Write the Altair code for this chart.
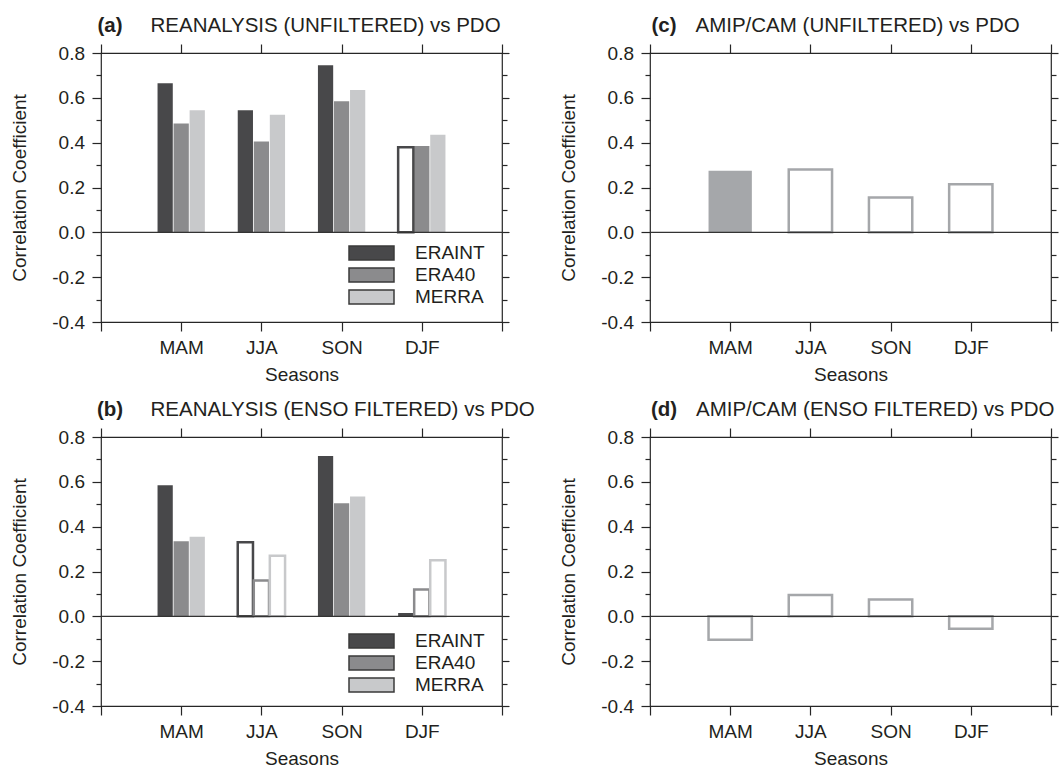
import json
import altair as alt
import pandas as pd

# ---------------- data ----------------
seasons = ["MAM", "JJA", "SON", "DJF"]
datasets = ["ERAINT", "ERA40", "MERRA"]

# (a) reanalysis (unfiltered) vs PDO
a_eraint = [0.665, 0.545, 0.745, 0.38]
a_era40 = [0.485, 0.405, 0.585, 0.385]
a_merra = [0.545, 0.525, 0.635, 0.435]
a_eraint_sig = [True, True, True, False]
a_era40_sig = [True, True, True, True]
a_merra_sig = [True, True, True, True]

# (b) reanalysis (ENSO filtered) vs PDO
b_eraint = [0.585, 0.33, 0.715, 0.015]
b_era40 = [0.335, 0.16, 0.505, 0.12]
b_merra = [0.355, 0.27, 0.535, 0.25]
b_eraint_sig = [True, False, True, True]
b_era40_sig = [True, False, True, False]
b_merra_sig = [True, False, True, False]

# (c) AMIP/CAM (unfiltered) vs PDO
amip = ["AMIP/CAM"]
c_amip = [0.275, 0.28, 0.155, 0.215]
c_amip_sig = [True, False, False, False]

# (d) AMIP/CAM (ENSO filtered) vs PDO
d_amip = [-0.105, 0.095, 0.075, -0.055]
d_amip_sig = [False, False, False, False]

y_ticks = [-0.4, -0.3, -0.2, -0.1, 0.0, 0.1, 0.2, 0.3, 0.4, 0.5, 0.6, 0.7, 0.8]
x_ticks = [0, 1, 2, 3, 4, 5]

# ---------------- style ----------------
FONT = "Liberation Sans"
TXT = "#231f20"
LINE = "#262626"
rean_colors = ["#48484a", "#8b8b8d", "#c8c9cb"]
amip_colors = ["#a5a7aa"]
W, H = 401, 269
LBL = 19
AX_T = 19
TTL = 20.5
MAJOR = "abs(round(datum.value*10)) % 2 == 0"


def make_df(names, series, sigs):
    rows = []
    for k, (name, vals, sg) in enumerate(zip(names, series, sigs)):
        for i, (s, v, g) in enumerate(zip(seasons, vals, sg)):
            rows.append(dict(season=s, s_idx=i + 1, dataset=name, d_idx=k,
                             value=v, sig=g))
    return pd.DataFrame(rows)


def panel(df, names, colors, letter, title, step, bar_w, letter_dx, title_dx,
          legend_xy=None):
    n = len(names)
    xscale = alt.Scale(domain=[x_ticks[0], x_ticks[-1]], nice=False, zero=False)
    yscale = alt.Scale(domain=[y_ticks[0], y_ticks[-1]], nice=False, zero=False)

    left_axis = alt.Axis(
        orient="left", values=y_ticks, domain=False, grid=False,
        tickSize={"condition": {"test": MAJOR, "value": 9}, "value": 5},
        labelExpr=f"{MAJOR} ? (datum.value < 0 ? '-' : '') + format(abs(datum.value), '.1f') : ''",
        labelOverlap=False, labelPadding=7.5, labelFontSize=LBL,
        title="Correlation Coefficient", titleFontSize=AX_T, titlePadding=22,
    )
    right_axis = alt.Axis(
        orient="right", values=y_ticks, domain=False, grid=False, labels=False,
        tickSize={"condition": {"test": MAJOR, "value": 7}, "value": 5}, title=None,
    )
    bottom_axis = alt.Axis(
        orient="bottom", values=x_ticks, domain=False, grid=False,
        tickSize=9, labelExpr=json.dumps([""] + seasons + [""]) + "[datum.value]",
        labelOverlap=False, labelFlush=False, labelPadding=7, labelFontSize=LBL,
        title="Seasons", titleFontSize=AX_T, titlePadding=8,
    )
    top_axis = alt.Axis(
        orient="top", values=x_ticks, domain=False, grid=False, labels=False,
        tickSize=9, title=None,
    )

    base = alt.Chart(df).transform_calculate(
        center=f"datum.s_idx + (datum.d_idx - {(n - 1) / 2}) * {step}"
    ).transform_calculate(
        x1=f"datum.center - {bar_w / 2}", x2=f"datum.center + {bar_w / 2}"
    )
    cscale = alt.Scale(domain=names, range=colors)

    filled = base.transform_filter("datum.sig").mark_bar().encode(
        x=alt.X("x1:Q", scale=xscale, axis=bottom_axis),
        x2="x2:Q",
        y=alt.Y("value:Q", scale=yscale, axis=left_axis),
        y2=alt.datum(0),
        fill=alt.Fill("dataset:N", scale=cscale, legend=None),
    )
    hollow = base.transform_filter("!datum.sig").mark_bar(
        fill="white", strokeWidth=2.5
    ).encode(
        x=alt.X("x1:Q", scale=xscale, axis=top_axis),
        x2="x2:Q",
        y=alt.Y("value:Q", scale=yscale, axis=right_axis),
        y2=alt.datum(0),
        stroke=alt.Stroke("dataset:N", scale=cscale, legend=None),
    )
    zero = alt.Chart(pd.DataFrame({"zero": [0.0]})).mark_rule(
        color="#333333", strokeWidth=1.3
    ).encode(
        y=alt.Y("zero:Q", scale=yscale, axis=None),
        x=alt.value(0), x2=alt.value(W),
    )
    letter_t = alt.Chart(pd.DataFrame({"t": [letter]})).mark_text(
        align="left", baseline="top", font=FONT, fontSize=TTL,
        fontWeight="bold", color=TXT,
    ).encode(text="t:N", x=alt.value(letter_dx), y=alt.value(-37))
    title_t = alt.Chart(pd.DataFrame({"t": [title]})).mark_text(
        align="left", baseline="top", font=FONT, fontSize=TTL, color=TXT,
    ).encode(text="t:N", x=alt.value(title_dx), y=alt.value(-37))

    layers = [filled, hollow, zero, letter_t, title_t]

    if legend_xy is not None:
        legend = alt.Legend(
            orient="none", legendX=legend_xy[0], legendY=legend_xy[1], title=None,
            symbolType="M-1,-0.31L1,-0.31L1,0.31L-1,0.31Z", symbolSize=2025,
            clipHeight=20, rowPadding=2,
            labelFont=FONT, labelFontSize=LBL, labelColor=TXT, labelOffset=20,
            padding=0,
        )
        # legend-only layer: draws no marks, carries the outlined legend keys
        key_layer = alt.Chart(pd.DataFrame({"dataset": names})).transform_filter(
            "false"
        ).mark_bar(stroke="#3a3a3a", strokeWidth=1.5).encode(
            fill=alt.Fill("dataset:N", scale=cscale, legend=legend),
        )
        layers.append(key_layer)

    return alt.layer(*layers).resolve_axis(
        x="independent", y="independent"
    ).resolve_scale(fill="independent").properties(width=W, height=H)


df_a = make_df(datasets, [a_eraint, a_era40, a_merra],
               [a_eraint_sig, a_era40_sig, a_merra_sig])
df_b = make_df(datasets, [b_eraint, b_era40, b_merra],
               [b_eraint_sig, b_era40_sig, b_merra_sig])
df_c = make_df(amip, [c_amip], [c_amip_sig])
df_d = make_df(amip, [d_amip], [d_amip_sig])

pa = panel(df_a, datasets, rean_colors, "(a)", "REANALYSIS (UNFILTERED) vs PDO",
           0.2, 0.19, -3.5, 49.5, legend_xy=(247, 190))
pb = panel(df_b, datasets, rean_colors, "(b)", "REANALYSIS (ENSO FILTERED) vs PDO",
           0.2, 0.19, -4, 49.5, legend_xy=(247, 194))
pc = panel(df_c, amip, amip_colors, "(c)", "AMIP/CAM (UNFILTERED) vs PDO",
           0.2, 0.54, 1.5, 45.5)
pd_ = panel(df_d, amip, amip_colors, "(d)", "AMIP/CAM (ENSO FILTERED) vs PDO",
            0.2, 0.54, 1, 46)

chart = alt.concat(
    pa, pc, pb, pd_, columns=2,
    spacing={"row": 115, "column": 148}, bounds="flush",
).resolve_scale(
    fill="independent", stroke="independent"
).properties(
    padding={"left": 10, "top": 15, "right": 0, "bottom": 0},
    background="white",
).configure_view(
    stroke=LINE, strokeWidth=1.2,
).configure_axis(
    labelFont=FONT, titleFont=FONT, labelColor=TXT, titleColor=TXT,
    titleFontWeight="normal", tickColor=LINE, tickWidth=1.2,
)

chart.save("out.html", embed_options={"renderer": "svg", "actions": False})
